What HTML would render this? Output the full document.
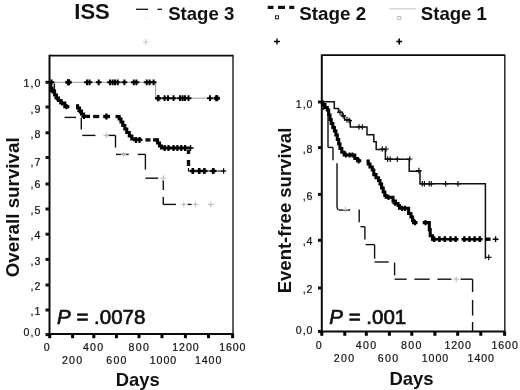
<!DOCTYPE html>
<html><head><meta charset="utf-8"><title>ISS survival</title>
<style>
html,body{margin:0;padding:0;background:#fff;}
svg{display:block;filter:blur(0.45px);}
text{font-family:"Liberation Sans",sans-serif;fill:#111;}
.b{font-weight:bold;}
.p{font-weight:normal;stroke:#111;stroke-width:0.7px;}
.tk{font-size:10.6px;letter-spacing:1px;fill:#111;stroke:#111;stroke-width:0.2px;}
</style></head><body>
<svg width="520" height="390" viewBox="0 0 520 390">
<rect width="520" height="390" fill="#fff"/>
<path d="M49.5 54.800000000000004V334H233.7" fill="none" stroke="#0a0a0a" stroke-width="2"/>
<path d="M49.5 55.6H233" fill="none" stroke="#0a0a0a" stroke-width="1.7"/>
<path d="M233 54.800000000000004V334" fill="none" stroke="#1a1a1a" stroke-width="1.4"/>
<rect x="45.5" y="333.1" width="4" height="3" fill="#111"/>
<text x="41.3" y="336.1" class="tk" text-anchor="end">0,0</text>
<rect x="45.5" y="308.5" width="4" height="3" fill="#111"/>
<text x="41.3" y="315.2" class="tk" text-anchor="end">,1</text>
<rect x="45.5" y="283.5" width="4" height="3" fill="#111"/>
<text x="41.3" y="290.2" class="tk" text-anchor="end">,2</text>
<rect x="45.5" y="257.9" width="4" height="3" fill="#111"/>
<text x="41.3" y="264.6" class="tk" text-anchor="end">,3</text>
<rect x="45.5" y="232.7" width="4" height="3" fill="#111"/>
<text x="41.3" y="239.4" class="tk" text-anchor="end">,4</text>
<rect x="45.5" y="207.5" width="4" height="3" fill="#111"/>
<text x="41.3" y="214.3" class="tk" text-anchor="end">,5</text>
<rect x="45.5" y="182.5" width="4" height="3" fill="#111"/>
<text x="41.3" y="188.2" class="tk" text-anchor="end">,6</text>
<rect x="45.5" y="156.0" width="4" height="3" fill="#111"/>
<text x="41.3" y="165.7" class="tk" text-anchor="end">,7</text>
<rect x="45.5" y="131.3" width="4" height="3" fill="#111"/>
<text x="41.3" y="137.9" class="tk" text-anchor="end">,8</text>
<rect x="45.5" y="105.5" width="4" height="3" fill="#111"/>
<text x="41.3" y="112.9" class="tk" text-anchor="end">,9</text>
<rect x="45.5" y="80.8" width="4" height="3" fill="#111"/>
<text x="41.3" y="86.5" class="tk" text-anchor="end">1,0</text>
<rect x="48.2" y="334.0" width="3" height="4.2" fill="#000"/>
<text x="47.4" y="350.8" class="tk" style="letter-spacing:1.3px" text-anchor="middle">0</text>
<rect x="71.1" y="334.0" width="3" height="4.2" fill="#000"/>
<text x="72.7" y="364" class="tk" style="letter-spacing:1.3px" text-anchor="middle">200</text>
<rect x="92.3" y="334.0" width="3" height="4.2" fill="#000"/>
<text x="93.7" y="350.8" class="tk" style="letter-spacing:1.3px" text-anchor="middle">400</text>
<rect x="114.9" y="334.0" width="3" height="4.2" fill="#000"/>
<text x="117.0" y="364" class="tk" style="letter-spacing:1.3px" text-anchor="middle">600</text>
<rect x="137.5" y="334.0" width="3" height="4.2" fill="#000"/>
<text x="139.3" y="350.8" class="tk" style="letter-spacing:1.3px" text-anchor="middle">800</text>
<rect x="160.5" y="334.0" width="3" height="4.2" fill="#000"/>
<text x="163.4" y="364" class="tk" style="letter-spacing:0.9px" text-anchor="middle">1000</text>
<rect x="183.9" y="334.0" width="3" height="4.2" fill="#000"/>
<text x="185.9" y="350.8" class="tk" style="letter-spacing:0.9px" text-anchor="middle">1200</text>
<rect x="207.0" y="334.0" width="3" height="4.2" fill="#000"/>
<text x="208.6" y="364" class="tk" style="letter-spacing:0.9px" text-anchor="middle">1400</text>
<rect x="231.1" y="334.0" width="3" height="4.2" fill="#000"/>
<text x="232.8" y="350.8" class="tk" style="letter-spacing:0.9px" text-anchor="middle">1600</text>
<path d="M50.0 82.3 L155.6 82.3 L155.6 98.2 L218.0 98.2" stroke="#999" stroke-width="1" fill="none" />
<path d="M48.6 82.3H54.4M51.5 79.4V85.2" stroke="#000" stroke-width="2.0" fill="none"/>
<path d="M65.6 82.3H71.4M68.5 79.4V85.2" stroke="#000" stroke-width="2.0" fill="none"/>
<path d="M84.1 82.3H89.9M87.0 79.4V85.2" stroke="#000" stroke-width="2.0" fill="none"/>
<path d="M86.6 82.3H92.4M89.5 79.4V85.2" stroke="#000" stroke-width="2.0" fill="none"/>
<path d="M95.8 82.3H101.6M98.7 79.4V85.2" stroke="#000" stroke-width="2.0" fill="none"/>
<path d="M107.1 82.3H112.9M110.0 79.4V85.2" stroke="#000" stroke-width="2.0" fill="none"/>
<path d="M109.7 82.3H115.5M112.6 79.4V85.2" stroke="#000" stroke-width="2.0" fill="none"/>
<path d="M112.1 82.3H117.9M115.0 79.4V85.2" stroke="#000" stroke-width="2.0" fill="none"/>
<path d="M114.8 82.3H120.6M117.7 79.4V85.2" stroke="#000" stroke-width="2.0" fill="none"/>
<path d="M121.5 82.3H127.3M124.4 79.4V85.2" stroke="#000" stroke-width="2.0" fill="none"/>
<path d="M130.9 82.3H136.7M133.8 79.4V85.2" stroke="#000" stroke-width="2.0" fill="none"/>
<path d="M133.5 82.3H139.3M136.4 79.4V85.2" stroke="#000" stroke-width="2.0" fill="none"/>
<path d="M143.8 82.3H149.6M146.7 79.4V85.2" stroke="#000" stroke-width="2.0" fill="none"/>
<path d="M146.7 82.3H152.5M149.6 79.4V85.2" stroke="#000" stroke-width="2.0" fill="none"/>
<path d="M150.7 82.3H156.5M153.6 79.4V85.2" stroke="#000" stroke-width="2.0" fill="none"/>
<path d="M65.5 82.3H71.5M68.5 79.3V85.3" stroke="#000" stroke-width="3" fill="none"/>
<path d="M155.3 98.2H161.1M158.2 95.3V101.1" stroke="#000" stroke-width="2.0" fill="none"/>
<path d="M161.7 98.2H167.5M164.6 95.3V101.1" stroke="#000" stroke-width="2.0" fill="none"/>
<path d="M165.1 98.2H170.9M168.0 95.3V101.1" stroke="#000" stroke-width="2.0" fill="none"/>
<path d="M170.7 98.2H176.5M173.6 95.3V101.1" stroke="#000" stroke-width="2.0" fill="none"/>
<path d="M177.1 98.2H182.9M180.0 95.3V101.1" stroke="#000" stroke-width="2.0" fill="none"/>
<path d="M179.7 98.2H185.5M182.6 95.3V101.1" stroke="#000" stroke-width="2.0" fill="none"/>
<path d="M182.1 98.2H187.9M185.0 95.3V101.1" stroke="#000" stroke-width="2.0" fill="none"/>
<path d="M185.6 98.2H191.4M188.5 95.3V101.1" stroke="#000" stroke-width="2.0" fill="none"/>
<path d="M207.1 98.2H212.9M210.0 95.3V101.1" stroke="#000" stroke-width="2.0" fill="none"/>
<path d="M213.8 98.2H219.6M216.7 95.3V101.1" stroke="#000" stroke-width="2.0" fill="none"/>
<path d="M155.2 98.2H161.2M158.2 95.2V101.2" stroke="#000" stroke-width="2.6" fill="none"/>
<path d="M213.7 98.2H219.7M216.7 95.2V101.2" stroke="#000" stroke-width="3" fill="none"/>
<path d="M54.4 83.5L54.4 92.0" stroke="#111" stroke-width="1.4" fill="none"/>
<path d="M64.6 117.4L76.0 117.4" stroke="#111" stroke-width="1.4" fill="none"/>
<path d="M81.3 118.0L81.3 129.5" stroke="#111" stroke-width="1.4" fill="none"/>
<path d="M82.3 135.4L95.4 135.4" stroke="#111" stroke-width="1.4" fill="none"/>
<path d="M107.5 135.4L115.5 135.4" stroke="#111" stroke-width="1.4" fill="none"/>
<path d="M115.5 135.4L115.5 147.5" stroke="#111" stroke-width="1.4" fill="none"/>
<path d="M116.0 154.4L128.7 154.4" stroke="#111" stroke-width="1.4" fill="none"/>
<path d="M137.7 154.4L145.4 154.4" stroke="#111" stroke-width="1.4" fill="none"/>
<path d="M145.4 154.4L145.4 169.7" stroke="#111" stroke-width="1.4" fill="none"/>
<path d="M145.4 178.2L158.2 178.2" stroke="#111" stroke-width="1.4" fill="none"/>
<path d="M163.3 180.0L163.3 190.0" stroke="#111" stroke-width="1.4" fill="none"/>
<path d="M163.3 197.0L163.3 204.4" stroke="#111" stroke-width="1.4" fill="none"/>
<path d="M163.3 204.4L176.0 204.4" stroke="#111" stroke-width="1.4" fill="none"/>
<path d="M187.7 204.4L191.5 204.4" stroke="#111" stroke-width="1.4" fill="none"/>
<path d="M103.4 135.4H109.0M106.2 132.6V138.2" stroke="#bbb" stroke-width="1" fill="none"/>
<path d="M120.8 154.4H126.4M123.6 151.6V157.2" stroke="#bbb" stroke-width="1" fill="none"/>
<path d="M160.5 178.2H166.1M163.3 175.4V181.0" stroke="#bbb" stroke-width="1" fill="none"/>
<path d="M181.0 204.4H186.6M183.8 201.6V207.2" stroke="#bbb" stroke-width="1" fill="none"/>
<path d="M192.6 204.4H198.2M195.4 201.6V207.2" stroke="#bbb" stroke-width="1" fill="none"/>
<path d="M208.0 204.4H213.6M210.8 201.6V207.2" stroke="#bbb" stroke-width="1" fill="none"/>
<path d="M50.0 83.0H50.6V88.0H52.0V91.0H54.6V95.0H56.5V98.0H58.5V100.5H61.0V103.0H64.8V106.6H69.3V106.6" stroke="#000" stroke-width="3.1" fill="none" stroke-linejoin="miter"/>
<path d="M76.0 105.8H77.6V108.0H79.5V111.0H81.5V114.0H83.6V116.4H90.0V116.4" stroke="#000" stroke-width="3.1" fill="none" stroke-linejoin="miter"/>
<path d="M93.1 116.5L99.2 116.5" stroke="#111" stroke-width="3.3" fill="none"/>
<path d="M103.3 116.5L110.0 116.5" stroke="#111" stroke-width="3.3" fill="none"/>
<path d="M115.5 116.5L118.0 116.5" stroke="#111" stroke-width="3.3" fill="none"/>
<path d="M117.0 116.5H119.2V119.0H121.0V122.0H122.8V125.5H124.8V129.0H126.8V132.5H129.3V136.0H131.8V139.0H134.5V139.8H141.5V139.8" stroke="#000" stroke-width="3.1" fill="none" stroke-linejoin="miter"/>
<path d="M145.4 139.9L150.5 139.9" stroke="#111" stroke-width="3.4" fill="none"/>
<path d="M153.0 139.9L156.0 139.9" stroke="#111" stroke-width="3.4" fill="none"/>
<path d="M155.5 139.9H157.5V143.0H159.5V146.0H161.5V148.0H190.2V148.0" stroke="#000" stroke-width="3.1" fill="none" stroke-linejoin="miter"/>
<path d="M188.5 150.0L188.5 154.0" stroke="#111" stroke-width="3.4" fill="none"/>
<path d="M188.5 160.0L188.5 166.0" stroke="#111" stroke-width="3.4" fill="none"/>
<path d="M188.5 168.0 L188.5 171.0 L225.0 171.0" stroke="#000" stroke-width="1.2" fill="none" />
<path d="M189.8 171.0H195.8M192.8 168.0V174.0" stroke="#000" stroke-width="2.6" fill="none"/>
<path d="M196.2 171.0H202.2M199.2 168.0V174.0" stroke="#000" stroke-width="2.6" fill="none"/>
<path d="M201.4 171.0H207.4M204.4 168.0V174.0" stroke="#000" stroke-width="2.6" fill="none"/>
<path d="M210.3 171.0H216.3M213.3 168.0V174.0" stroke="#000" stroke-width="2.6" fill="none"/>
<path d="M220.8 171.0H226.4M223.6 168.2V173.8" stroke="#000" stroke-width="1.2" fill="none"/>
<path d="M103.4 116.5H109.4M106.4 113.5V119.5" stroke="#000" stroke-width="2.4" fill="none"/>
<path d="M161.6 148.0H167.6M164.6 145.0V151.0" stroke="#000" stroke-width="2.2" fill="none"/>
<path d="M165.5 148.0H171.5M168.5 145.0V151.0" stroke="#000" stroke-width="2.2" fill="none"/>
<path d="M170.6 148.0H176.6M173.6 145.0V151.0" stroke="#000" stroke-width="2.2" fill="none"/>
<path d="M174.4 148.0H180.4M177.4 145.0V151.0" stroke="#000" stroke-width="2.2" fill="none"/>
<path d="M178.3 148.0H184.3M181.3 145.0V151.0" stroke="#000" stroke-width="2.2" fill="none"/>
<path d="M182.1 148.0H188.1M185.1 145.0V151.0" stroke="#000" stroke-width="2.2" fill="none"/>
<path d="M187.6 148.0H193.6M190.6 145.0V151.0" stroke="#000" stroke-width="1.3" fill="none"/>
<path d="M133.0 139.9H139.0M136.0 136.9V142.9" stroke="#000" stroke-width="2.2" fill="none"/>
<path d="M136.5 139.9H142.5M139.5 136.9V142.9" stroke="#000" stroke-width="2.2" fill="none"/>
<path d="M49.9 91.0H55.1M52.5 88.4V93.6" stroke="#000" stroke-width="2.0" fill="none"/>
<path d="M54.4 98.0H59.6M57.0 95.4V100.6" stroke="#000" stroke-width="2.0" fill="none"/>
<path d="M59.4 103.0H64.6M62.0 100.4V105.6" stroke="#000" stroke-width="2.0" fill="none"/>
<path d="M63.9 106.6H69.1M66.5 104.0V109.2" stroke="#000" stroke-width="2.0" fill="none"/>
<path d="M77.4 111.0H82.6M80.0 108.4V113.6" stroke="#000" stroke-width="2.0" fill="none"/>
<path d="M81.4 116.4H86.6M84.0 113.8V119.0" stroke="#000" stroke-width="2.0" fill="none"/>
<path d="M321.8 54.400000000000006V331.6H505.5" fill="none" stroke="#0a0a0a" stroke-width="2"/>
<path d="M321.8 55.2H504.8" fill="none" stroke="#0a0a0a" stroke-width="1.7"/>
<path d="M504.8 54.400000000000006V331.6" fill="none" stroke="#1a1a1a" stroke-width="1.4"/>
<rect x="318" y="329.9" width="4" height="3" fill="#111"/>
<text x="313.5" y="333.7" class="tk" text-anchor="end">0,0</text>
<rect x="318" y="286.5" width="4" height="3" fill="#111"/>
<text x="313.5" y="293.1" class="tk" text-anchor="end">,2</text>
<rect x="318" y="238.8" width="4" height="3" fill="#111"/>
<text x="313.5" y="245.0" class="tk" text-anchor="end">,4</text>
<rect x="318" y="192.9" width="4" height="3" fill="#111"/>
<text x="313.5" y="199.7" class="tk" text-anchor="end">,6</text>
<rect x="318" y="146.1" width="4" height="3" fill="#111"/>
<text x="313.5" y="153.3" class="tk" text-anchor="end">,8</text>
<rect x="318" y="100.5" width="4" height="3" fill="#111"/>
<text x="313.5" y="108.1" class="tk" text-anchor="end">1,0</text>
<rect x="320.3" y="331.6" width="3" height="4.2" fill="#000"/>
<text x="319.3" y="349" class="tk" style="letter-spacing:1.3px" text-anchor="middle">0</text>
<rect x="343.3" y="331.6" width="3" height="4.2" fill="#000"/>
<text x="344.6" y="362.3" class="tk" style="letter-spacing:1.3px" text-anchor="middle">200</text>
<rect x="364.8" y="331.6" width="3" height="4.2" fill="#000"/>
<text x="366.6" y="349" class="tk" style="letter-spacing:1.3px" text-anchor="middle">400</text>
<rect x="387.9" y="331.6" width="3" height="4.2" fill="#000"/>
<text x="388.6" y="362.3" class="tk" style="letter-spacing:1.3px" text-anchor="middle">600</text>
<rect x="410.3" y="331.6" width="3" height="4.2" fill="#000"/>
<text x="411.8" y="349" class="tk" style="letter-spacing:1.3px" text-anchor="middle">800</text>
<rect x="433.4" y="331.6" width="3" height="4.2" fill="#000"/>
<text x="435.4" y="362.3" class="tk" style="letter-spacing:0.9px" text-anchor="middle">1000</text>
<rect x="456.2" y="331.6" width="3" height="4.2" fill="#000"/>
<text x="458.1" y="349" class="tk" style="letter-spacing:0.9px" text-anchor="middle">1200</text>
<rect x="479.3" y="331.6" width="3" height="4.2" fill="#000"/>
<text x="481.2" y="362.3" class="tk" style="letter-spacing:0.9px" text-anchor="middle">1400</text>
<rect x="503.1" y="331.6" width="3" height="4.2" fill="#000"/>
<text x="505.1" y="349" class="tk" style="letter-spacing:0.9px" text-anchor="middle">1600</text>
<path d="M321.8 101.8 L334.3 101.8 L334.3 108.5 L338.5 108.5 L338.5 112.3 L342.3 112.3 L342.3 116.2 L344.6 116.2 L344.6 120.0 L350.3 120.0 L350.3 127.0 L367.0 127.0 L367.0 134.8 L373.8 134.8 L373.8 141.8 L376.2 141.8 L376.2 149.5 L385.4 149.5 L385.4 159.2 L409.2 159.2 L409.2 171.3 L420.0 171.3 L420.0 183.8 L485.4 183.8 L485.4 258.7" stroke="#111" stroke-width="1.5" fill="none" />
<path d="M337.2 112.3H342.8M340.0 109.5V115.1" stroke="#111" stroke-width="1.2" fill="none"/>
<path d="M340.4 115.6H346.0M343.2 112.8V118.4" stroke="#111" stroke-width="1.2" fill="none"/>
<path d="M344.2 119.6H349.8M347.0 116.8V122.4" stroke="#111" stroke-width="1.2" fill="none"/>
<path d="M346.4 120.6H352.0M349.2 117.8V123.4" stroke="#111" stroke-width="1.2" fill="none"/>
<path d="M356.2 127.0H361.8M359.0 124.2V129.8" stroke="#111" stroke-width="1.2" fill="none"/>
<path d="M359.5 127.0H365.1M362.3 124.2V129.8" stroke="#111" stroke-width="1.2" fill="none"/>
<path d="M379.5 149.0H385.1M382.3 146.2V151.8" stroke="#111" stroke-width="1.2" fill="none"/>
<path d="M383.2 149.0H388.8M386.0 146.2V151.8" stroke="#111" stroke-width="1.2" fill="none"/>
<path d="M384.8 159.2H390.4M387.6 156.4V162.0" stroke="#111" stroke-width="1.2" fill="none"/>
<path d="M387.4 159.2H393.0M390.2 156.4V162.0" stroke="#111" stroke-width="1.2" fill="none"/>
<path d="M394.5 159.2H400.1M397.3 156.4V162.0" stroke="#111" stroke-width="1.2" fill="none"/>
<path d="M406.9 159.0H412.5M409.7 156.2V161.8" stroke="#111" stroke-width="1.2" fill="none"/>
<path d="M416.1 170.6H421.7M418.9 167.8V173.4" stroke="#111" stroke-width="1.2" fill="none"/>
<path d="M419.5 183.8H425.1M422.3 181.0V186.6" stroke="#111" stroke-width="1.2" fill="none"/>
<path d="M421.6 183.8H427.2M424.4 181.0V186.6" stroke="#111" stroke-width="1.2" fill="none"/>
<path d="M426.4 183.8H432.0M429.2 181.0V186.6" stroke="#111" stroke-width="1.2" fill="none"/>
<path d="M428.5 183.8H434.1M431.3 181.0V186.6" stroke="#111" stroke-width="1.2" fill="none"/>
<path d="M442.9 183.8H448.5M445.7 181.0V186.6" stroke="#111" stroke-width="1.2" fill="none"/>
<path d="M455.2 183.8H460.8M458.0 181.0V186.6" stroke="#111" stroke-width="1.2" fill="none"/>
<path d="M485.9 257.4H491.5M488.7 254.6V260.2" stroke="#111" stroke-width="1.2" fill="none"/>
<path d="M323.5 103.0L323.5 110.0" stroke="#111" stroke-width="1.4" fill="none"/>
<path d="M328.0 116.7L328.0 147.4" stroke="#111" stroke-width="1.4" fill="none"/>
<path d="M328.0 147.4L333.0 147.4" stroke="#111" stroke-width="1.4" fill="none"/>
<path d="M333.0 147.4L333.0 160.3" stroke="#111" stroke-width="1.4" fill="none"/>
<path d="M337.0 163.3L337.0 207.0" stroke="#111" stroke-width="1.4" fill="none"/>
<path d="M337.0 207.0L338.0 210.0" stroke="#111" stroke-width="1.4" fill="none"/>
<path d="M338.7 210.0L350.3 210.0" stroke="#111" stroke-width="1.4" fill="none"/>
<path d="M359.2 209.5L359.2 222.3" stroke="#111" stroke-width="1.4" fill="none"/>
<path d="M360.5 226.7L364.9 226.7" stroke="#111" stroke-width="1.4" fill="none"/>
<path d="M364.9 226.7L364.9 239.5" stroke="#111" stroke-width="1.4" fill="none"/>
<path d="M365.6 244.6L374.6 244.6" stroke="#111" stroke-width="1.4" fill="none"/>
<path d="M374.6 244.6L374.6 258.7" stroke="#111" stroke-width="1.4" fill="none"/>
<path d="M374.6 262.0L388.7 262.0" stroke="#111" stroke-width="1.4" fill="none"/>
<path d="M394.6 262.6L394.6 275.4" stroke="#111" stroke-width="1.4" fill="none"/>
<path d="M394.6 279.2L406.7 279.2" stroke="#111" stroke-width="1.4" fill="none"/>
<path d="M414.4 279.2L429.7 279.2" stroke="#111" stroke-width="1.4" fill="none"/>
<path d="M437.4 279.2L451.5 279.2" stroke="#111" stroke-width="1.4" fill="none"/>
<path d="M460.5 279.2L472.6 279.2" stroke="#111" stroke-width="1.4" fill="none"/>
<path d="M472.6 279.2L472.6 292.0" stroke="#111" stroke-width="1.4" fill="none"/>
<path d="M472.6 300.0L472.6 315.6" stroke="#111" stroke-width="1.4" fill="none"/>
<path d="M472.6 322.0L472.6 332.0" stroke="#111" stroke-width="1.4" fill="none"/>
<path d="M342.6 209.5H348.2M345.4 206.7V212.3" stroke="#bbb" stroke-width="1" fill="none"/>
<path d="M453.4 279.2H459.0M456.2 276.4V282.0" stroke="#bbb" stroke-width="1" fill="none"/>
<path d="M321.8 102.0H322.6V104.5H325.0V107.5H327.3V110.0H328.6V115.0H330.0V119.5H331.2V123.5H332.8V127.5H334.4V131.0H335.9V135.0H337.3V139.5H338.7V144.0H340.0V148.5H341.8V152.3H344.2V155.0H353.4V155.0H354.8V158.5H357.5V160.8H361.0V160.8" stroke="#000" stroke-width="3.1" fill="none" stroke-linejoin="miter"/>
<path d="M366.5 161.0H368.2V164.0H370.0V167.0H372.3V170.0H373.8V174.6H376.0V177.7H378.5V180.5H380.0V184.0H381.6V188.0H383.2V192.0H384.8V195.5H386.2V197.3H391.0V197.3H393.0V201.0H395.5V203.5H398.0V205.5H399.5V208.3H407.0V208.3H408.6V213.5H411.0V217.0H412.6V220.5H413.6V222.6H417.2V222.6" stroke="#000" stroke-width="3.1" fill="none" stroke-linejoin="miter"/>
<path d="M422.8 222.6H428.6V222.6H429.3V229.6H430.2V235.8H432.5V239.2H436.0V239.2" stroke="#000" stroke-width="3.1" fill="none" stroke-linejoin="miter"/>
<path d="M432.3 239.2L458.0 239.2" stroke="#000" stroke-width="1.8" fill="none"/>
<path d="M462.0 239.2L482.0 239.2" stroke="#000" stroke-width="1.8" fill="none"/>
<path d="M485.0 239.2L490.5 239.2" stroke="#000" stroke-width="3.4" fill="none"/>
<path d="M431.1 239.2H436.9M434.0 236.3V242.1" stroke="#000" stroke-width="2.5" fill="none"/>
<path d="M436.5 239.2H442.3M439.4 236.3V242.1" stroke="#000" stroke-width="2.5" fill="none"/>
<path d="M441.9 239.2H447.7M444.8 236.3V242.1" stroke="#000" stroke-width="2.5" fill="none"/>
<path d="M447.6 239.2H453.4M450.5 236.3V242.1" stroke="#000" stroke-width="2.5" fill="none"/>
<path d="M452.7 239.2H458.5M455.6 236.3V242.1" stroke="#000" stroke-width="2.5" fill="none"/>
<path d="M461.5 239.2H467.3M464.4 236.3V242.1" stroke="#000" stroke-width="2.5" fill="none"/>
<path d="M466.6 239.2H472.4M469.5 236.3V242.1" stroke="#000" stroke-width="2.5" fill="none"/>
<path d="M471.7 239.2H477.5M474.6 236.3V242.1" stroke="#000" stroke-width="2.5" fill="none"/>
<path d="M476.8 239.2H482.6M479.7 236.3V242.1" stroke="#000" stroke-width="2.5" fill="none"/>
<path d="M492.7 239.2H498.5M495.6 236.3V242.1" stroke="#000" stroke-width="1.4" fill="none"/>
<path d="M343.4 155.0H348.6M346.0 152.4V157.6" stroke="#000" stroke-width="2.0" fill="none"/>
<path d="M346.9 155.0H352.1M349.5 152.4V157.6" stroke="#000" stroke-width="2.0" fill="none"/>
<path d="M349.9 155.0H355.1M352.5 152.4V157.6" stroke="#000" stroke-width="2.0" fill="none"/>
<path d="M356.1 160.8H361.3M358.7 158.2V163.4" stroke="#000" stroke-width="2.0" fill="none"/>
<path d="M385.9 197.3H391.1M388.5 194.7V199.9" stroke="#000" stroke-width="2.0" fill="none"/>
<path d="M392.4 203.2H397.6M395.0 200.6V205.8" stroke="#000" stroke-width="2.0" fill="none"/>
<path d="M399.4 208.3H404.6M402.0 205.7V210.9" stroke="#000" stroke-width="2.0" fill="none"/>
<path d="M402.4 208.3H407.6M405.0 205.7V210.9" stroke="#000" stroke-width="2.0" fill="none"/>
<path d="M412.4 222.6H417.6M415.0 220.0V225.2" stroke="#000" stroke-width="2.0" fill="none"/>
<path d="M422.9 222.6H428.1M425.5 220.0V225.2" stroke="#000" stroke-width="2.0" fill="none"/>
<text x="74.3" y="19.3" class="b" font-size="22">ISS</text>
<text x="168.2" y="20.4" class="b" font-size="18.6">Stage 3</text>
<text x="299.3" y="20.3" class="b" font-size="18.8">Stage 2</text>
<text x="420.8" y="20.3" class="b" font-size="18.6">Stage 1</text>
<path d="M136.0 9.3L148.0 9.3" stroke="#111" stroke-width="1.3" fill="none"/>
<path d="M157.5 9.3L162.0 9.3" stroke="#111" stroke-width="1.3" fill="none"/>
<path d="M142.9 42.0H148.7M145.8 39.1V44.9" stroke="#cacaca" stroke-width="1.1" fill="none"/>
<path d="M143.6 18.5H148.0M145.8 16.3V20.7" stroke="#f4f4f4" stroke-width="1" fill="none"/>
<path d="M267.7 7.4L273.5 7.4" stroke="#111" stroke-width="3.2" fill="none"/>
<path d="M278.0 7.4L285.0 7.4" stroke="#111" stroke-width="3.2" fill="none"/>
<path d="M289.2 7.4L294.3 7.4" stroke="#111" stroke-width="3.2" fill="none"/>
<rect x="275.5" y="15.8" width="3" height="3" fill="#fff" stroke="#222" stroke-width="1"/>
<path d="M274.1 41.5H279.9M277.0 38.6V44.4" stroke="#000" stroke-width="1.35" fill="none"/>
<path d="M389.4 8.8L416.0 8.8" stroke="#c8c8c8" stroke-width="1.1" fill="none"/>
<rect x="397.7" y="16.5" width="3" height="3" fill="#fff" stroke="#bbb" stroke-width="1"/>
<path d="M396.3 41.5H402.1M399.2 38.6V44.4" stroke="#000" stroke-width="1.6" fill="none"/>
<text transform="translate(18.6,207.3) rotate(-90)" text-anchor="middle" class="b" font-size="18.8">Overall survival</text>
<text transform="translate(291,210.5) rotate(-90)" text-anchor="middle" class="b" font-size="18.5">Event-free survival</text>
<text x="137.7" y="385.6" text-anchor="middle" class="b" font-size="18.4">Days</text>
<text x="411.5" y="384.5" text-anchor="middle" class="b" font-size="18.5">Days</text>
<text x="57" y="324.2" class="p" font-size="20.5"><tspan font-style="italic">P</tspan> = .0078</text>
<text x="329.3" y="324.2" class="p" font-size="20.5"><tspan font-style="italic">P</tspan> = .001</text>
</svg>
</body></html>
